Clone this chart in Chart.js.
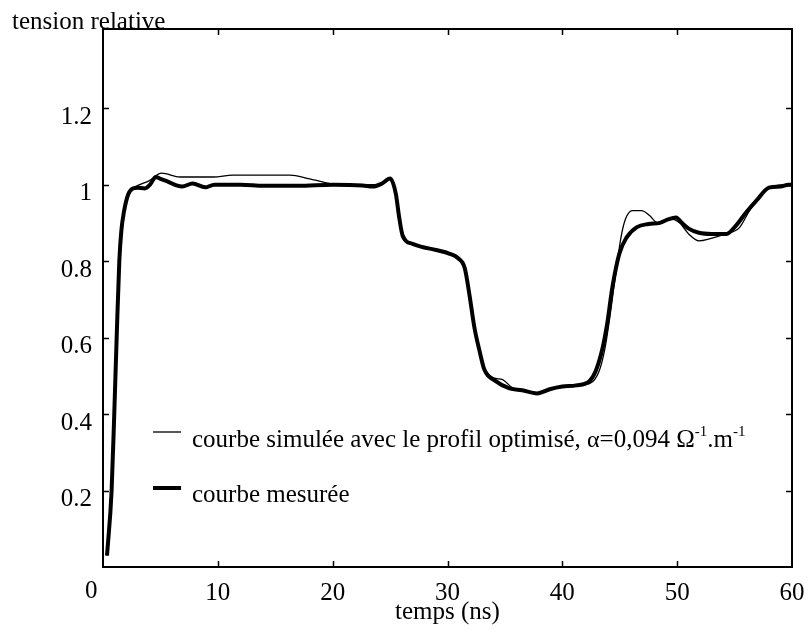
<!DOCTYPE html>
<html>
<head>
<meta charset="utf-8">
<script src="https://cdn.jsdelivr.net/npm/chart.js@4/dist/chart.umd.min.js"></script>
<style>
  body { margin: 0; background: #fff; }
  canvas { display: block; }
</style>
</head>
<body>
<canvas id="graph" width="809" height="633"></canvas>
<script>
// courbe mesurée (trait épais)
const tMesure = [0.35, 0.75, 0.98, 1.19, 1.42, 1.6, 1.83, 2.2, 2.6, 3.0, 3.65, 4.1, 4.6, 5.0, 5.65, 6.4, 6.9, 7.8, 8.9, 9.7,
  12, 14, 17, 20, 22.6, 23.5, 24.3, 25.0, 25.5, 25.8, 26.1, 26.96, 27.8, 29.0, 30.2, 30.9, 31.5, 31.9, 32.35, 32.8,
  33.2, 34.2, 35.4, 36.5, 37.8, 38.9, 40.0, 41.2, 42.35, 42.9, 43.5, 43.9, 44.35, 44.96, 45.6, 46.5, 47.5, 48.5, 49.2, 49.9,
  50.4, 51.0, 51.9, 53.0, 54.3, 55.1, 56.0, 56.9, 58.0, 59.0, 59.7, 60];
const vMesure = [0.03, 0.2, 0.4, 0.6, 0.8, 0.88, 0.93, 0.975, 0.99, 0.992, 0.99, 1.0, 1.02, 1.015, 1.008, 0.998, 0.995, 1.003, 0.993, 1.0,
  1.0, 0.997, 0.997, 1.0, 0.998, 0.995, 1.003, 1.016, 0.976, 0.913, 0.866, 0.845, 0.837, 0.829, 0.819, 0.808, 0.782, 0.714, 0.625, 0.564,
  0.517, 0.486, 0.467, 0.462, 0.454, 0.465, 0.472, 0.475, 0.486, 0.512, 0.572, 0.635, 0.73, 0.819, 0.862, 0.889, 0.897, 0.9, 0.909, 0.914,
  0.9, 0.885, 0.874, 0.871, 0.871, 0.892, 0.927, 0.958, 0.992, 0.995, 1.0, 1.0];

// courbe simulée (trait fin)
const tSimul = [0.35, 0.75, 0.98, 1.19, 1.42, 1.6, 1.83, 2.2, 2.6, 3.2, 4.0, 5.1, 6.7, 9.6, 11.3, 16.3, 18, 20.5, 22.6, 23.8,
  24.5, 25.0, 25.4, 25.7, 26.0, 26.4, 27.0, 27.8, 29.0, 30.2, 30.9, 31.5, 31.9, 32.35, 32.8, 33.2, 34.0, 34.8, 35.6, 36.5,
  37.8, 38.9, 40.0, 41.2, 42.4, 43.2, 43.7, 44.0, 44.6, 45.1, 45.5, 46.1, 46.9, 47.6, 48.3, 49.3, 50.2, 51.0, 51.9, 52.8,
  54.2, 55.4, 56.3, 57.4, 58.3, 59.7, 60];
const vSimul = [0.03, 0.2, 0.4, 0.6, 0.8, 0.88, 0.93, 0.975, 0.99, 1.0, 1.01, 1.03, 1.02, 1.02, 1.025, 1.025, 1.015, 1.0, 1.0, 1.0,
  1.005, 1.016, 0.985, 0.94, 0.885, 0.855, 0.845, 0.837, 0.829, 0.819, 0.808, 0.782, 0.714, 0.625, 0.564, 0.52, 0.495, 0.49, 0.47, 0.462,
  0.454, 0.465, 0.472, 0.475, 0.48, 0.512, 0.57, 0.625, 0.756, 0.861, 0.91, 0.932, 0.932, 0.919, 0.9, 0.911, 0.9, 0.871, 0.853, 0.858,
  0.871, 0.887, 0.932, 0.979, 0.995, 1.0, 1.0];

const xTicks = [0, 10, 20, 30, 40, 50, 60];
const yTicks = [0.2, 0.4, 0.6, 0.8, 1, 1.2];

const police = "'Liberation Serif', 'Times New Roman', serif";

function points(t, v) {
  return t.map((x, i) => ({ x: x, y: v[i] }));
}

// cadre, graduations intérieures, titres et légende
const habillage = {
  id: 'habillage',
  afterDatasetsDraw(chart) {
    const ctx = chart.ctx;
    const a = chart.chartArea;
    const sx = chart.scales.x, sy = chart.scales.y;
    ctx.save();
    ctx.strokeStyle = '#000';
    ctx.lineWidth = 2;
    ctx.strokeRect(a.left, a.top, a.right - a.left, a.bottom - a.top);
    ctx.lineWidth = 1.5;
    ctx.beginPath();
    xTicks.slice(1, -1).forEach(v => {
      const px = Math.round(sx.getPixelForValue(v)) + 0.5;
      ctx.moveTo(px, a.bottom); ctx.lineTo(px, a.bottom - 6);
      ctx.moveTo(px, a.top); ctx.lineTo(px, a.top + 6);
    });
    yTicks.forEach(v => {
      const py = Math.round(sy.getPixelForValue(v)) + 0.5;
      ctx.moveTo(a.left, py); ctx.lineTo(a.left + 6, py);
      ctx.moveTo(a.right, py); ctx.lineTo(a.right - 6, py);
    });
    ctx.stroke();

    ctx.fillStyle = '#000';
    ctx.font = '25px ' + police;
    ctx.textBaseline = 'alphabetic';
    ctx.textAlign = 'left';
    ctx.fillText('tension relative', 12, 29);
    ctx.fillText('0', 85, 598);

    // légende
    const ds = chart.data.datasets;
    const lx0 = 153, lx1 = 181;
    ctx.strokeStyle = ds[0].borderColor;
    ctx.lineWidth = ds[0].borderWidth;
    ctx.beginPath(); ctx.moveTo(lx0, 432); ctx.lineTo(lx1, 432); ctx.stroke();
    ctx.lineWidth = ds[1].borderWidth;
    ctx.beginPath(); ctx.moveTo(lx0, 488); ctx.lineTo(lx1, 488); ctx.stroke();

    let x = 192;
    const base = 447;
    const morceau = (txt, font, dy) => {
      ctx.font = font;
      ctx.fillText(txt, x, base + (dy || 0));
      x += ctx.measureText(txt).width;
    };
    const normal = '25px ' + police;
    const exposant = '15px ' + police;
    morceau(ds[0].label + ', ', normal);
    morceau('α', '24px ' + police);
    morceau('=0,094 ', normal);
    morceau('Ω', normal);
    morceau('-1', exposant, -11);
    morceau('.m', normal);
    morceau('-1', exposant, -11);

    ctx.font = normal;
    ctx.fillText(ds[1].label, 192, 502);
    ctx.restore();
  }
};

new Chart(document.getElementById('graph'), {
  type: 'line',
  data: {
    datasets: [{
      label: 'courbe simulée avec le profil optimisé',
      data: points(tSimul, vSimul),
      borderColor: '#000',
      borderWidth: 1.3,
      pointRadius: 0,
      cubicInterpolationMode: 'monotone'
    }, {
      label: 'courbe mesurée',
      data: points(tMesure, vMesure),
      borderColor: '#000',
      borderWidth: 4,
      pointRadius: 0,
      cubicInterpolationMode: 'monotone'
    }]
  },
  options: {
    responsive: false,
    animation: false,
    layout: { padding: { top: 29, right: 17, left: 0, bottom: 0 } },
    plugins: { legend: { display: false }, tooltip: { enabled: false } },
    scales: {
      x: {
        type: 'linear',
        min: 0, max: 60,
        afterFit: s => { s.height = 66; },
        afterBuildTicks: s => { s.ticks = xTicks.map(v => ({ value: v })); },
        grid: { display: false },
        border: { display: false },
        ticks: {
          color: '#000',
          padding: 3,
          maxRotation: 0,
          font: { family: police, size: 25 },
          callback: v => (v === 0 ? '' : String(v))
        },
        title: {
          display: true,
          text: 'temps (ns)',
          color: '#000',
          padding: { top: 0, bottom: 6 },
          font: { family: police, size: 25 }
        }
      },
      y: {
        min: 0, max: 1.407,
        afterFit: s => { s.width = 103; },
        afterBuildTicks: s => { s.ticks = yTicks.map(v => ({ value: v })); },
        grid: { display: false },
        border: { display: false },
        ticks: {
          color: '#000',
          padding: 3,
          labelOffset: 9,
          font: { family: police, size: 25 },
          callback: v => String(Math.round(v * 10) / 10)
        }
      }
    }
  },
  plugins: [habillage]
});
</script>
</body>
</html>
